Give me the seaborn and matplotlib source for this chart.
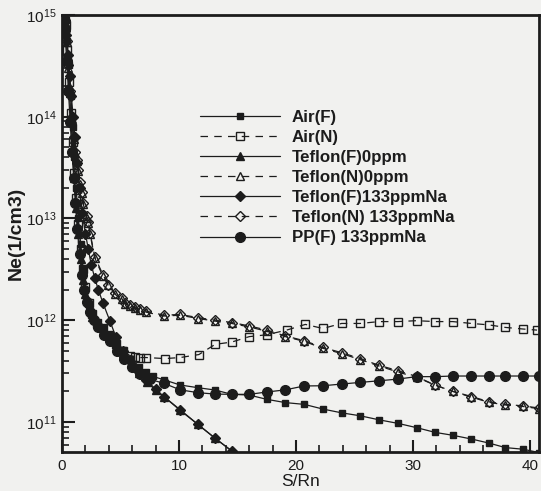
import numpy as np
import matplotlib
matplotlib.use("Agg")
import matplotlib.pyplot as plt
import seaborn as sns
from matplotlib.ticker import FuncFormatter, LogLocator, MultipleLocator, NullFormatter

# ---------------- data ----------------
labels = ["Air(F)", "Air(N)", "Teflon(F)0ppm", "Teflon(N)0ppm",
          "Teflon(F)133ppmNa", "Teflon(N) 133ppmNa", "PP(F) 133ppmNa"]

air_f_x = [0.3, 0.45, 0.6, 0.75, 0.9, 1.05, 1.2, 1.4, 1.6, 1.8, 2.0, 2.3, 2.6, 3.0, 3.5, 4.0, 4.6,
           5.2, 5.9, 6.6, 7.2, 7.8, 8.7, 10.1, 11.65, 13.1, 14.5, 16.0, 17.5, 19.1, 20.7, 22.3,
           23.9, 25.5, 27.1, 28.7, 30.3, 31.9, 33.4, 35.0, 36.5, 37.9, 39.4, 40.8]
air_f_y = [8.9e14, 5.6e14, 3.2e14, 1.6e14, 7.9e13, 4.0e13, 2.0e13, 1.0e13, 5.6e12, 3.2e12,
           2.0e12, 1.4e12, 1.12e12, 9.3e11, 8.3e11, 7.2e11, 6.2e11, 5.1e11, 4.2e11, 3.5e11,
           3.1e11, 2.8e11, 2.6e11, 2.31e11, 2.17e11, 2.06e11, 1.87e11, 1.84e11, 1.67e11,
           1.55e11, 1.49e11, 1.34e11, 1.23e11, 1.15e11, 1.05e11, 9.7e10, 8.8e10, 7.9e10,
           7.4e10, 6.8e10, 6.2e10, 5.6e10, 5.4e10, 5.0e10]

air_n_x = [0.3, 0.45, 0.6, 0.75, 0.9, 1.05, 1.2, 1.4, 1.6, 1.8, 2.0, 2.3, 2.6, 3.0, 3.5, 4.0, 4.6,
           5.2, 5.8, 6.2, 6.7, 7.2, 8.8, 10.1, 11.7, 13.1, 14.5, 16.0, 17.5, 19.2, 20.8, 22.3,
           23.9, 25.5, 27.1, 28.7, 30.3, 31.9, 33.4, 35.0, 36.5, 37.9, 39.4, 40.6]
air_n_y = [7.9e14, 4.5e14, 2.2e14, 1.1e14, 5.6e13, 2.8e13, 1.6e13, 8.9e12, 5.0e12, 3.2e12,
           2.1e12, 1.48e12, 1.15e12, 9.5e11, 8.3e11, 7.1e11, 5.9e11, 5.0e11, 4.5e11, 4.4e11,
           4.3e11, 4.3e11, 4.2e11, 4.3e11, 4.6e11, 5.8e11, 6.1e11, 6.9e11, 7.2e11, 8.0e11,
           9.1e11, 8.3e11, 9.3e11, 9.3e11, 9.7e11, 9.7e11, 9.9e11, 9.7e11, 9.7e11, 9.3e11,
           9.0e11, 8.5e11, 8.2e11, 8.0e11]

tef_f0_x = [0.3, 0.45, 0.6, 0.75, 0.9, 1.05, 1.2, 1.4, 1.6, 1.8, 2.0, 2.3, 2.6, 3.0, 3.5, 4.0,
            4.6, 5.2, 5.9, 6.6, 7.3, 8.0, 8.7, 10.1, 11.6, 13.1, 14.5]
tef_f0_y = [7.9e14, 4.0e14, 2.0e14, 1.0e14, 5.0e13, 2.5e13, 1.26e13, 7.1e12, 4.0e12, 2.5e12,
            1.8e12, 1.32e12, 1.07e12, 9.1e11, 7.9e11, 6.9e11, 5.8e11, 4.8e11, 3.8e11, 3.0e11,
            2.45e11, 2.05e11, 1.78e11, 1.32e11, 9.5e10, 6.9e10, 5.2e10]

tef_n0_x = [0.25, 0.4, 0.55, 0.7, 0.85, 1.0, 1.1, 1.26, 1.4, 1.54, 1.68, 1.82, 2.1, 2.25, 2.4,
            2.8, 3.5, 3.96, 4.5, 5.1, 5.4, 5.8, 6.2, 6.7, 7.2, 8.7, 10.1, 11.65, 13.1, 14.5,
            16.0, 17.5, 19.1, 20.7, 22.3, 23.9, 25.5, 27.1, 28.7, 30.3, 31.9, 33.4, 35.0, 36.5,
            37.9, 39.4, 40.8]
tef_n0_y = [8.5e14, 5.4e14, 3.0e14, 1.7e14, 9.6e13, 6.1e13, 4.4e13, 3.7e13, 2.9e13, 2.2e13,
            1.78e13, 1.38e13, 1.02e13, 9.0e12, 7.0e12, 4.1e12, 2.7e12, 2.2e12, 1.81e12,
            1.62e12, 1.44e12, 1.38e12, 1.31e12, 1.25e12, 1.2e12, 1.1e12, 1.12e12, 1.04e12,
            9.8e11, 9.3e11, 8.6e11, 7.8e11, 6.9e11, 6.2e11, 5.3e11, 4.7e11, 4.1e11, 3.55e11,
            3.1e11, 2.75e11, 2.3e11, 2.0e11, 1.75e11, 1.56e11, 1.47e11, 1.42e11, 1.35e11]

tef_f133_x = [0.2, 0.35, 0.5, 0.65, 0.8, 0.95, 1.1, 1.3, 1.5, 1.75, 2.0, 2.25, 2.5, 2.8, 3.1,
              3.5, 4.1, 4.6, 5.2, 5.8, 6.5, 7.2, 8.0, 8.7, 10.1, 11.6, 13.1, 14.5]
tef_f133_y = [9.5e14, 6.3e14, 4.0e14, 2.5e14, 1.6e14, 1.0e14, 6.3e13, 3.5e13, 2.0e13, 1.12e13,
              7.1e12, 5.0e12, 3.5e12, 2.6e12, 2.0e12, 1.48e12, 9.8e11, 6.9e11, 5.0e11, 4.0e11,
              3.2e11, 2.6e11, 2.1e11, 1.78e11, 1.3e11, 9.5e10, 6.9e10, 5.2e10]

tef_n133_x = [0.25, 0.4, 0.55, 0.7, 0.85, 1.0, 1.1, 1.26, 1.4, 1.54, 1.68, 1.82, 2.1, 2.25, 2.4,
              2.8, 3.5, 3.96, 4.5, 5.1, 5.4, 5.8, 6.2, 6.7, 7.2, 8.7, 10.1, 11.65, 13.1, 14.5,
              16.0, 17.5, 19.1, 20.7, 22.3, 23.9, 25.5, 27.1, 28.7, 30.3, 31.9, 33.4, 35.0,
              36.5, 37.9, 39.4, 40.8]
tef_n133_y = [8.9e14, 5.6e14, 3.2e14, 1.8e14, 1.0e14, 6.3e13, 4.5e13, 3.8e13, 3.0e13, 2.3e13,
              1.82e13, 1.41e13, 1.05e13, 9.3e12, 7.2e12, 4.2e12, 2.8e12, 2.24e12, 1.84e12,
              1.64e12, 1.47e12, 1.41e12, 1.34e12, 1.28e12, 1.23e12, 1.12e12, 1.14e12, 1.06e12,
              1.0e12, 9.5e11, 8.8e11, 8.0e11, 7.0e11, 6.3e11, 5.4e11, 4.8e11, 4.2e11, 3.6e11,
              3.2e11, 2.8e11, 2.3e11, 2.0e11, 1.78e11, 1.58e11, 1.49e11, 1.44e11, 1.37e11]

pp_f_x = [0.25, 0.4, 0.55, 0.7, 0.85, 1.0, 1.15, 1.3, 1.5, 1.7, 1.9, 2.1, 2.4, 2.7, 3.1, 3.6,
          4.1, 4.7, 5.3, 6.0, 6.7, 7.5, 8.7, 10.1, 11.65, 13.1, 14.5, 16.0, 17.5, 19.1, 20.7,
          22.3, 23.9, 25.5, 27.1, 28.7, 30.3, 31.9, 33.4, 35.0, 36.5, 37.9, 39.4, 40.8]
pp_f_y = [7.1e14, 3.5e14, 1.8e14, 8.9e13, 4.5e13, 2.5e13, 1.41e13, 7.9e12, 4.5e12, 2.8e12,
          2.0e12, 1.51e12, 1.2e12, 1.0e12, 8.5e11, 7.2e11, 6.2e11, 5.0e11, 4.2e11, 3.5e11,
          2.95e11, 2.63e11, 2.4e11, 2.07e11, 1.94e11, 1.88e11, 1.87e11, 1.87e11, 1.97e11,
          2.07e11, 2.26e11, 2.27e11, 2.36e11, 2.45e11, 2.54e11, 2.64e11, 2.79e11, 2.79e11,
          2.83e11, 2.83e11, 2.83e11, 2.83e11, 2.83e11, 2.83e11]

series_x = [air_f_x, air_n_x, tef_f0_x, tef_n0_x, tef_f133_x, tef_n133_x, pp_f_x]
series_y = [air_f_y, air_n_y, tef_f0_y, tef_n0_y, tef_f133_y, tef_n133_y, pp_f_y]

x_ticks = [0, 10, 20, 30, 40]
x_label = "S/Rn"
y_label = "Ne(1/cm3)"

# ---------------- styles ----------------
INK = "#1c1c1c"
BG = "#f1f1ef"
DASH = (0, (6, 5))
styles = [
    dict(marker="s", ms=5.0, mfc=INK, ls="-"),
    dict(marker="s", ms=5.5, mfc="none", ls=DASH),
    dict(marker="^", ms=5.5, mfc=INK, ls="-"),
    dict(marker="^", ms=5.5, mfc="none", ls=DASH),
    dict(marker="D", ms=5.0, mfc=INK, ls="-"),
    dict(marker="D", ms=5.5, mfc="none", ls=DASH),
    dict(marker="o", ms=7.0, mfc=INK, ls="-"),
]

sns.set_style("ticks")
plt.rcParams["font.family"] = ["Liberation Sans", "DejaVu Sans"]
plt.rcParams["mathtext.default"] = "regular"

fig = plt.figure(figsize=(5.41, 4.91), dpi=100, facecolor=BG)
ax = fig.add_axes([62 / 541, 39 / 491, 477 / 541, 437 / 491])
ax.set_facecolor(BG)

for lab, xs, ys, st in zip(labels, series_x, series_y, styles):
    sns.lineplot(x=xs, y=ys, ax=ax, estimator=None, sort=False, label=lab,
                 color=INK, linewidth=0.9, linestyle=st["ls"], marker=st["marker"],
                 markersize=st["ms"], markerfacecolor=st["mfc"], markeredgecolor=INK,
                 markeredgewidth=1.0)

ax.set_yscale("log")
ax.set_xlim(0, 40.77)
ax.set_ylim(5.07e10, 1e15)

ax.set_xticks(x_ticks)
ax.xaxis.set_minor_locator(MultipleLocator(2))
ax.yaxis.set_major_locator(LogLocator(base=10, numticks=10))
ax.yaxis.set_minor_locator(LogLocator(base=10, subs=np.arange(2, 10), numticks=20))
ax.yaxis.set_minor_formatter(NullFormatter())
ax.yaxis.set_major_formatter(FuncFormatter(lambda v, p: r"$\mathregular{10^{%d}}$" % round(np.log10(v))))

ax.tick_params(axis="both", which="major", direction="in", length=9, width=1.5, colors=INK)
ax.tick_params(axis="x", which="major", labelsize=11, pad=5)
ax.tick_params(axis="y", which="major", labelsize=11, pad=4)
ax.tick_params(axis="both", which="minor", direction="in", length=5, width=1.2, colors=INK)
ax.tick_params(top=False, right=False, which="both")

for sp in ax.spines.values():
    sp.set_linewidth(2.0)
    sp.set_color(INK)

ax.set_xlabel(x_label, fontsize=12.5, color=INK, labelpad=0.5)
ax.set_ylabel(y_label, fontsize=14, fontweight="bold", color=INK, labelpad=1)

leg = ax.legend(loc="upper left", bbox_to_anchor=(138 / 477, (452 - 110) / 437),
                frameon=False, handlelength=4.7, handletextpad=0.7, borderpad=0,
                borderaxespad=0, labelspacing=0.3, prop=dict(size=12.2, weight="bold"))
for t in leg.get_texts():
    t.set_color(INK)

fig.savefig("out.png", dpi=100, facecolor=BG)
